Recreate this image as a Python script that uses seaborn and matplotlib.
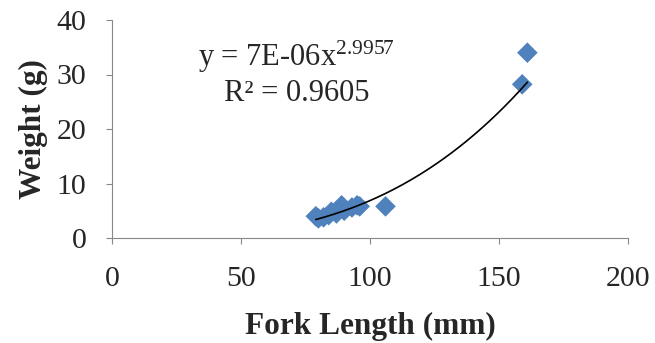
import numpy as np
import pandas as pd
import matplotlib
matplotlib.use("Agg")
import matplotlib.pyplot as plt
import seaborn as sns

fork_length = [79, 80, 82, 84, 85, 87, 88, 89, 90, 93, 95, 96, 106, 159, 161]
weight = [4.0, 3.6, 3.8, 4.2, 4.8, 4.5, 5.2, 6.0, 5.0, 5.6, 6.0, 5.8, 5.8, 28.2, 34.0]
coef_a = 7e-6
coef_b = 2.9957

df = pd.DataFrame({"fork_length": fork_length, "weight": weight})

sns.set_style("white")
plt.rcParams["font.family"] = ["Liberation Serif", "DejaVu Serif"]
plt.rcParams["mathtext.fontset"] = "custom"
plt.rcParams["mathtext.rm"] = "Liberation Serif"
plt.rcParams["mathtext.it"] = "Liberation Serif"

fig = plt.figure(figsize=(6.55, 3.43), dpi=100)
ax = fig.add_axes([112 / 655, 1 - 238 / 343, (628 - 112) / 655, (238 - 20) / 343])

sns.scatterplot(data=df, x="fork_length", y="weight", ax=ax, marker="D",
                s=110, color="#4F81BD", edgecolor="none", zorder=3)

# power trendline
xs = np.linspace(min(fork_length), max(fork_length), 200)
ax.plot(xs, coef_a * xs ** coef_b, color="black", lw=1.2, zorder=4)

ax.set_xlim(0, 200)
ax.set_ylim(0, 40)
ax.set_xticks([0, 50, 100, 150, 200])
ax.set_yticks([0, 10, 20, 30, 40])
ax.set_xlabel("Fork Length (mm)", fontsize=22.5, fontweight="bold", labelpad=14)
ax.set_ylabel("Weight (g)", fontsize=22.5, fontweight="bold", labelpad=6)
ax.tick_params(labelsize=21.5, length=4.5, color="#888888", direction="out",
               bottom=True, left=True)
ax.tick_params(axis="x", pad=16)
ax.tick_params(axis="y", pad=14)
for s in ["top", "right"]:
    ax.spines[s].set_visible(False)
for s in ["left", "bottom"]:
    ax.spines[s].set_color("#888888")

ax.text(71.5, 33.2, r"y = 7E-06x$^{\mathrm{2.9957}}$", fontsize=22, ha="center", va="center")
ax.text(71.5, 26.6, "R² = 0.9605", fontsize=22, ha="center", va="center")

fig.savefig("out.png", dpi=100)
